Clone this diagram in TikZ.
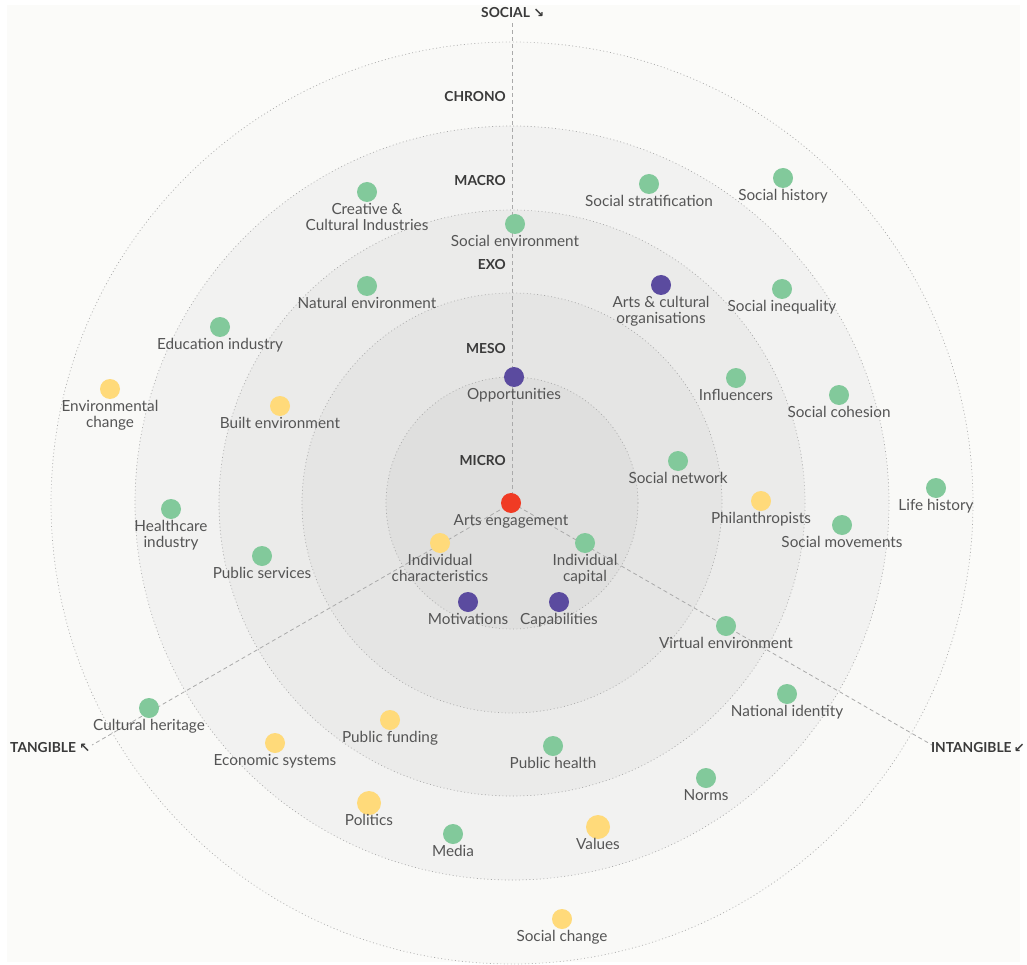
\documentclass[tikz,border=0pt]{standalone}
\usepackage{fontspec}
\usetikzlibrary{calc}
\setmainfont{Lato}
\newfontfamily\arrowfont{DejaVu Sans}
\definecolor{bgc}{HTML}{FBFBF9}
\definecolor{ringA}{HTML}{F9F9F7}
\definecolor{ringB}{HTML}{F2F2F1}
\definecolor{ringC}{HTML}{EBEBEA}
\definecolor{ringD}{HTML}{E5E5E4}
\definecolor{ringE}{HTML}{DFDFDE}
\definecolor{dotgreen}{HTML}{82C99B}
\definecolor{dotyellow}{HTML}{FFDA7A}
\definecolor{dotpurple}{HTML}{5B4B9F}
\definecolor{dotred}{HTML}{F03B24}
\definecolor{txt}{HTML}{555555}
\definecolor{head}{HTML}{3A3A3A}
\definecolor{linec}{HTML}{AAAAAA}
\tikzset{
  ringline/.style={draw=linec, line width=0.7pt, dash pattern=on 0.9pt off 2.6pt},
  axisline/.style={draw=linec, line width=0.8pt, dash pattern=on 4pt off 3pt},
  gdot/.style={circle, fill=dotgreen, minimum size=20pt, inner sep=0pt},
  ydot/.style={circle, fill=dotyellow, minimum size=20pt, inner sep=0pt},
  pdot/.style={circle, fill=dotpurple, minimum size=20pt, inner sep=0pt},
  rdot/.style={circle, fill=dotred, minimum size=20pt, inner sep=0pt},
  bigdot/.style={minimum size=24pt},
  lbl/.style={text=txt, font=\fontsize{15.3}{16}\selectfont, align=center, inner sep=0pt, anchor=north},
  headlbl/.style={text=head, font=\fontsize{13.8}{15}\selectfont\bfseries, inner sep=0pt},
}
\newcommand{\dotlab}[4]{%
  \node[#1] (#2) at (#3) {};
  \node[lbl] (#2-l) at ([yshift=-11pt]#2.center) {#4};
}
\newcommand{\arr}[1]{{\arrowfont\fontsize{13}{14}\selectfont #1}}
\begin{document}
\begin{tikzpicture}[x=1pt,y=-1pt]
\useasboundingbox (0,0) rectangle (1027,965);
\fill[white] (0,0) rectangle (1027,965);
\fill[bgc] (7,5) rectangle (1020,962);
\coordinate (ctr) at (512,503);
% rings
\fill[ringA] (ctr) circle (461);
\fill[ringB] (ctr) circle (377);
\fill[ringC] (ctr) circle (293);
\fill[ringD] (ctr) circle (210);
\fill[ringE] (ctr) circle (126);
\foreach \r in {461,377,293,210,126} {\path[ringline] (ctr) circle (\r);}
% axes
\coordinate (endS) at ($(ctr)+(0,-481)$);
\coordinate (endT) at ($(ctr)+(-420,242)$);
\coordinate (endI) at ($(ctr)+(420,242)$);
\path[axisline] (ctr) -- (endS);
\path[axisline] (ctr) -- (endT);
\path[axisline] (ctr) -- (endI);
% headings
\node[headlbl, anchor=west] (social) at (481,13) {SOCIAL \arr{↘}};
\node[headlbl, anchor=west] (tangible) at (10,748) {TANGIBLE \arr{↖}};
\node[headlbl, anchor=east] (intangible) at (1025,748) {INTANGIBLE\,\arr{↙}};
\node[headlbl, anchor=east] (chrono) at (506,97) {CHRONO};
\node[headlbl, anchor=east] (macro) at (506,181) {MACRO};
\node[headlbl, anchor=east] (exo) at (506,265) {EXO};
\node[headlbl, anchor=east] (meso) at (506,349) {MESO};
\node[headlbl, anchor=east] (micro) at (506,461) {MICRO};
% dots
\dotlab{rdot}{arts}{511,503}{Arts engagement}
\dotlab{ydot}{indch}{440,543}{Individual\\characteristics}
\dotlab{gdot}{indcap}{585,543}{Individual\\capital}
\dotlab{pdot}{motiv}{468,602}{Motivations}
\dotlab{pdot}{capab}{559,602}{Capabilities}
\dotlab{pdot}{opp}{514,377}{Opportunities}
\dotlab{gdot}{socnet}{678,461}{Social network}
\dotlab{ydot}{built}{280,406}{Built environment}
\dotlab{gdot}{pubserv}{262,556}{Public services}
\dotlab{ydot}{pubfund}{390,720}{Public funding}
\dotlab{gdot}{pubhealth}{553,746}{Public health}
\dotlab{gdot}{virtual}{726,626}{Virtual environment}
\dotlab{ydot}{phil}{761,501}{Philanthropists}
\dotlab{gdot}{infl}{736,378}{Influencers}
\dotlab{pdot}{artsorg}{661,285}{Arts \& cultural\\organisations}
\dotlab{gdot}{natenv}{367,286}{Natural environment}
\dotlab{gdot}{socenv}{515,224}{Social environment}
\dotlab{gdot}{creative}{367,192}{Creative \&\\Cultural Industries}
\dotlab{gdot}{socstrat}{649,184}{Social stratification}
\dotlab{gdot}{sochist}{783,178}{Social history}
\dotlab{gdot}{socineq}{782,289}{Social inequality}
\dotlab{gdot}{edu}{220,327}{Education industry}
\dotlab{ydot}{envch}{110,389}{Environmental\\change}
\dotlab{gdot}{soccoh}{839,395}{Social cohesion}
\dotlab{gdot}{lifehist}{936,488}{Life history}
\dotlab{gdot}{socmov}{842,525}{Social movements}
\dotlab{gdot}{health}{171,509}{Healthcare\\industry}
\dotlab{gdot}{culther}{149,708}{Cultural heritage}
\dotlab{ydot}{econ}{275,743}{Economic systems}
\dotlab{gdot}{natid}{787,694}{National identity}
\dotlab{gdot}{norms}{706,778}{Norms}
\dotlab{ydot,bigdot}{politics}{369,803}{Politics}
\dotlab{gdot}{media}{453,834}{Media}
\dotlab{ydot,bigdot}{values}{598,827}{Values}
\dotlab{ydot}{socch}{562,919}{Social change}
\end{tikzpicture}
\end{document}
